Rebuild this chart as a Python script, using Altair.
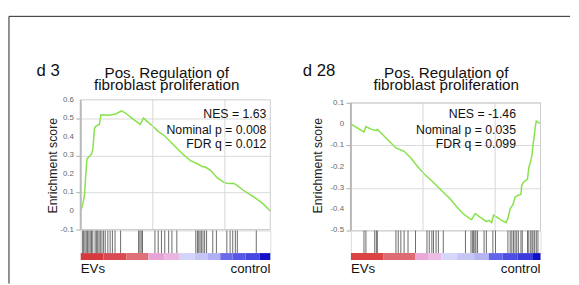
import altair as alt
import pandas as pd

N = 13150
FONT = "Liberation Sans"
GREEN = "#86e24a"

# ---------------- data: left panel (d 3) ----------------
left_rank = [0, 159, 272, 340, 431, 567, 748, 839, 907, 952, 1066, 1292, 1406, 1973, 2426, 2834,
             3106, 3559, 4126, 4353, 4580, 4965, 5373, 5826, 6280, 6733, 7187, 7640, 8094, 8434,
             8661, 9001, 9454, 9908, 10134, 10361, 10588, 10815, 11268, 11722, 12175, 12629, 13150]
left_es = [0.0, 0.041, 0.094, 0.183, 0.28, 0.293, 0.307, 0.334, 0.396, 0.446, 0.458, 0.467, 0.52,
           0.517, 0.524, 0.541, 0.529, 0.50, 0.468, 0.502, 0.485, 0.46, 0.43, 0.405, 0.37, 0.333,
           0.30, 0.27, 0.255, 0.24, 0.236, 0.22, 0.18, 0.156, 0.15, 0.148, 0.15, 0.14, 0.112, 0.09,
           0.067, 0.04, 0.0]
left_hits = [136, 204, 295, 385, 476, 567, 657, 748, 839, 998, 1088, 1179, 1270, 1360, 1474, 1587,
             1700, 1882, 2040, 2199, 2381, 2766, 4013, 4104, 4194, 4285, 5147, 5373, 5600, 5827,
             6099, 6325, 6666, 7981, 8094, 8185, 8275, 8366, 8479, 8593, 8729, 9159, 9409, 10134,
             10361, 10542, 10724, 10860, 12175]
left_bar_bounds = [0, 1578, 3156, 4681, 5786, 6812, 7890, 8811, 9678, 10520, 11441, 12400, 13150]
left_bar_colors = ["#d63a3e", "#da4a52", "#e07078", "#e8a4d4", "#ecb4e0", "#d4d4fa", "#c4c4f6",
                   "#b0b0f2", "#6a6aea", "#5858e6", "#4646e0", "#1212c4"]
left_yticks = [-0.1, 0, 0.1, 0.2, 0.3, 0.4, 0.5, 0.6]
left_ylabels = ["-0.1", "0", "0.1", "0.2", "0.3", "0.4", "0.5", "0.6"]
left_stats = ["NES = 1.63", "Nominal p = 0.008", "FDR q = 0.012"]
left_stat_y = [0.501, 0.418, 0.339]

# ---------------- data: right panel (d 28) ----------------
right_rank = [0, 407, 905, 1041, 1426, 1765, 1833, 2105, 2558, 3123, 3689, 4142, 4595, 5047, 5726,
              6405, 6858, 7311, 7763, 8216, 8374, 8623, 8895, 9234, 9393, 9574, 9755, 9891, 10140,
              10479, 10751, 10887, 11045, 11226, 11385, 11566, 11792, 11837, 11950, 12245, 12335,
              12471, 12561, 12629, 12697, 12788, 12856, 12969, 13150]
right_es = [0.0, -0.017, -0.037, -0.012, -0.025, -0.03, -0.025, -0.043, -0.074, -0.112, -0.128,
            -0.158, -0.197, -0.232, -0.274, -0.32, -0.35, -0.386, -0.42, -0.443, -0.448, -0.42,
            -0.435, -0.45, -0.458, -0.452, -0.463, -0.428, -0.438, -0.454, -0.463, -0.443, -0.397,
            -0.38, -0.343, -0.335, -0.33, -0.29, -0.274, -0.258, -0.205, -0.174, -0.143, -0.097,
            -0.066, -0.012, 0.014, 0.008, 0.003]
right_hits = [905, 1041, 1652, 1765, 1833, 3123, 3282, 3463, 3689, 3961, 4481, 5273, 5432, 5613,
              5726, 5907, 6066, 6405, 7944, 8329, 8442, 8510, 8601, 8668, 8782, 9234, 9393, 9845,
              10026, 10886, 11045, 11158, 11271, 11384, 11498, 11611, 11792, 11882, 12244, 12335,
              12471, 12561, 12629, 12742, 12855, 12969]
right_bar_bounds = [0, 2236, 4445, 5392, 6273, 7364, 8548, 9560, 10520, 11572, 12624, 13150]
right_bar_colors = ["#dc4444", "#e06a72", "#eaa8d8", "#ecbce4", "#d6d6fa", "#c6c6f6", "#b4b4f2",
                    "#6464ea", "#4e4ee4", "#3c3cdc", "#1010c4"]
right_yticks = [-0.5, -0.4, -0.3, -0.2, -0.1, 0, 0.1]
right_ylabels = ["-0.5", "-0.4", "-0.3", "-0.2", "-0.1", "0", "0.1"]
right_stats = ["NES = -1.46", "Nominal p = 0.035", "FDR q = 0.099"]
right_stat_y = [0.0276, -0.0444, -0.1137]

title_lines = ["Pos. Regulation of", "fibroblast proliferation"]
end_labels = ["EVs", "control"]
grid_x = [5000, 10000]

W = 193          # plot width of each panel
ROW1_H = 133     # enrichment-plot row
HITS_H = 23
BAR_H = 7


def one():
    return pd.DataFrame({"a": [0]})


def make_top(rank, es, ydom, yticks, ylabels, stats, stat_x, stat_y, day_label, day_x,
             title_cx, title_pad, frame=False):
    xs = alt.Scale(domain=[0, N], nice=False, zero=False)
    ys = alt.Scale(domain=ydom, nice=False, zero=False)
    y0, y1 = min(yticks), max(yticks)

    line = alt.Chart(pd.DataFrame({"es": es, "rank": rank})).mark_line(
        color=GREEN, strokeWidth=1.5
    ).encode(
        x=alt.X("rank:Q", scale=xs, axis=None),
        y=alt.Y("es:Q", scale=ys,
                axis=alt.Axis(values=yticks, title="Enrichment score", labels=False,
                              tickColor="#aaaaaa", tickSize=5, domain=False,
                              grid=True, gridColor="#d9d9d9", titleFontSize=12.5,
                              titleFontWeight="normal", titleColor="#222222",
                              titlePadding=title_pad, titleFont=FONT)),
    )

    ylab = alt.Chart(pd.DataFrame({"rank": [0] * len(yticks), "es": yticks, "t": ylabels})).mark_text(
        align="right", baseline="middle", dx=-7, fontSize=8, font=FONT, color="#666666"
    ).encode(x=alt.X("rank:Q", scale=xs, axis=None), y="es:Q", text="t:N")

    vgrid = alt.Chart(pd.DataFrame({"rank": grid_x, "es": [y0] * 2, "hi": [y1] * 2})).mark_rule(
        color="#d6d6d6", strokeWidth=1
    ).encode(x=alt.X("rank:Q", scale=xs, axis=None), y="es:Q", y2="hi:Q")

    border = alt.Chart(pd.DataFrame({"rank": [0], "r2": [N], "es": [y0], "hi": [y1]})).mark_rect(
        fillOpacity=0, stroke="#cccccc", strokeWidth=1
    ).encode(x=alt.X("rank:Q", scale=xs, axis=None), x2="r2:Q", y="es:Q", y2="hi:Q")

    yline = alt.Chart(pd.DataFrame({"rank": [0], "es": [y0], "hi": [y1]})).mark_rule(
        color="#b8b8b8", strokeWidth=2
    ).encode(x=alt.X("rank:Q", scale=xs, axis=None), y="es:Q", y2="hi:Q")

    stat_df = pd.DataFrame({"rank": [stat_x] * len(stats), "es": stat_y, "t": stats})
    stat_text = alt.Chart(stat_df).mark_text(
        align="right", baseline="alphabetic", fontSize=12.5, font=FONT, color="#111111"
    ).encode(x=alt.X("rank:Q", scale=xs, axis=None), y="es:Q", text="t:N")

    day_text = alt.Chart(pd.DataFrame({"t": [day_label]})).mark_text(
        align="left", baseline="alphabetic", fontSize=17, font=FONT, color="#111111"
    ).encode(x=alt.value(day_x), y=alt.value(-24), text="t:N")

    t1 = alt.Chart(pd.DataFrame({"t": [title_lines[0]]})).mark_text(
        align="center", baseline="alphabetic", fontSize=15.5, font=FONT, color="#111111"
    ).encode(x=alt.value(title_cx), y=alt.value(-22.5), text="t:N")
    t2 = alt.Chart(pd.DataFrame({"t": [title_lines[1]]})).mark_text(
        align="center", baseline="alphabetic", fontSize=15.5, font=FONT, color="#111111"
    ).encode(x=alt.value(title_cx), y=alt.value(-10.3), text="t:N")

    layers = [line, ylab, vgrid, border, yline, stat_text, day_text, t1, t2]
    if frame:
        layers.append(alt.Chart(one()).mark_rule(color="#222222", strokeWidth=1).encode(
            x=alt.value(-73), y=alt.value(-85), y2=alt.value(187)))
        layers.append(alt.Chart(one()).mark_rule(color="#222222", strokeWidth=1).encode(
            x=alt.value(-73), x2=alt.value(498), y=alt.value(-85)))

    return alt.layer(*layers).properties(
        width=W, height=ROW1_H, view=alt.ViewBackground(stroke="transparent"))


def make_hits(hits):
    xs = alt.Scale(domain=[0, N], nice=False, zero=False)
    return alt.Chart(pd.DataFrame({"rank": hits})).mark_rule(
        color="#6a6a6a", strokeWidth=1
    ).encode(x=alt.X("rank:Q", scale=xs, axis=None)).properties(width=W, height=HITS_H)


def make_bar(bounds, colors):
    xs = alt.Scale(domain=[0, N], nice=False, zero=False)
    bar_df = pd.DataFrame({"rank": bounds[:-1], "end": bounds[1:], "c": colors})
    bar = alt.Chart(bar_df).mark_rect().encode(
        x=alt.X("rank:Q", scale=xs, axis=None), x2="end:Q",
        color=alt.Color("c:N", scale=None))
    lab_l = alt.Chart(pd.DataFrame({"rank": [0], "t": [end_labels[0]]})).mark_text(
        align="left", baseline="alphabetic", fontSize=13.5, font=FONT, color="#111111"
    ).encode(x=alt.X("rank:Q", scale=xs, axis=None), y=alt.value(20), text="t:N")
    lab_r = alt.Chart(pd.DataFrame({"rank": [N], "t": [end_labels[1]]})).mark_text(
        align="right", baseline="alphabetic", fontSize=13.5, font=FONT, color="#111111"
    ).encode(x=alt.X("rank:Q", scale=xs, axis=None), y=alt.value(20), text="t:N")
    return alt.layer(bar, lab_l, lab_r).properties(
        width=W, height=BAR_H, view=alt.ViewBackground(stroke="transparent"))


top_l = make_top(left_rank, left_es, [-0.1053, 0.6], left_yticks, left_ylabels, left_stats,
                 12877, left_stat_y, "d 3", -45, 87.5, 16, frame=True)
top_r = make_top(right_rank, right_es, [-0.5, 0.1138], right_yticks, right_ylabels, right_stats,
                 11446, right_stat_y, "d 28", -49, 97, 21)

chart = alt.concat(
    top_l, top_r,
    make_hits(left_hits), make_hits(right_hits),
    make_bar(left_bar_bounds, left_bar_colors), make_bar(right_bar_bounds, right_bar_colors),
    columns=2, spacing={"row": 0, "column": 82}, bounds="flush",
).properties(
    padding={"left": 0, "top": 5, "right": 0, "bottom": 0}
).configure_view(stroke="#cccccc").configure(font=FONT)

chart.save("out.html", embed_options={"renderer": "svg", "actions": False})
